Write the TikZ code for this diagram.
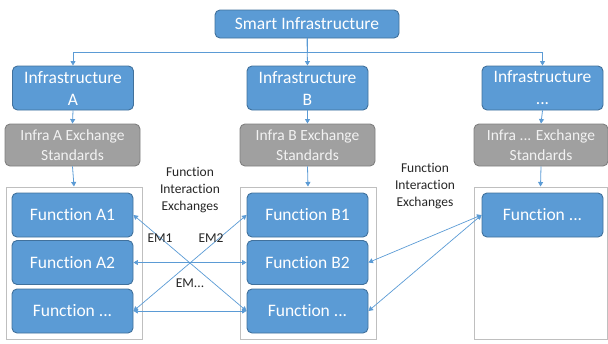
\documentclass[tikz,border=0pt]{standalone}
\usepackage{fontspec}
\setmainfont[Ligatures={NoCommon}]{Carlito}
\usetikzlibrary{arrows.meta}
\definecolor{bfill}{HTML}{5B9BD5}
\definecolor{bdraw}{HTML}{41719C}
\definecolor{gfill}{HTML}{A0A0A0}
\definecolor{gdraw}{HTML}{808080}
\definecolor{cdraw}{HTML}{BFBFBF}
\definecolor{lbl}{HTML}{262626}
\tikzset{
  bluebox/.style={draw=bdraw, fill=bfill, line width=0.9pt, rounded corners=5pt, text=white, align=center, inner sep=0pt, font=\fontsize{17.5}{22}\selectfont},
  graybox/.style={draw=gdraw, fill=gfill, line width=0.9pt, rounded corners=5pt, text=white!95!black, align=center, inner sep=0pt, minimum width=135pt, minimum height=42pt, font=\fontsize{15.5}{20}\selectfont},
  container/.style={draw=cdraw, line width=1pt, inner sep=0pt},
  conn/.style={draw=bfill, line width=0.8pt, -{Triangle[width=5pt,length=4.5pt]}},
  biconn/.style={draw=bfill, line width=0.7pt, {Triangle[width=5pt,length=4.5pt]}-{Triangle[width=5pt,length=4.5pt]}},
  lab/.style={text=lbl, align=center, inner sep=0pt, font=\fontsize{13.5}{17}\selectfont},
  fnbox/.style={bluebox, minimum width=121pt, minimum height=44pt},
  infbox/.style={bluebox, minimum width=121pt, minimum height=44pt},
}
\begin{document}
\begin{tikzpicture}[x=1pt, y=-1pt]
\useasboundingbox (0,0) rectangle (608,343);
% containers
\node[container, minimum width=136pt, minimum height=152pt] (contA) at (74,263) {};
\node[container, minimum width=136pt, minimum height=152pt] (contB) at (308,263) {};
\node[container, minimum width=133pt, minimum height=152pt] (contC) at (540.5,263) {};
% top
\node[bluebox, minimum width=184pt, minimum height=28pt] (smart) at (307,24) {Smart Infrastructure};
\node[infbox] (infA) at (73,88) {Infrastructure\\A};
\node[infbox] (infB) at (307.5,88) {Infrastructure\\B};
\node[infbox] (infC) at (542.5,88) {Infrastructure\\...};
% standards
\node[graybox] (stdA) at (72.5,145) {Infra A Exchange\\Standards};
\node[graybox] (stdB) at (307.5,145) {Infra B Exchange\\Standards};
\node[graybox, minimum width=134pt] (stdC) at (541,145) {Infra ... Exchange\\Standards};
% functions
\node[fnbox] (A1) at (72.5,215) {Function A1};
\node[fnbox] (A2) at (72.5,262.5) {Function A2};
\node[fnbox] (A3) at (72.5,311) {Function ...};
\node[fnbox] (B1) at (307.5,215) {Function B1};
\node[fnbox] (B2) at (307.5,262.5) {Function B2};
\node[fnbox] (B3) at (307.5,311) {Function ...};
\node[fnbox] (C1) at (542.5,215) {Function ...};
% hierarchy connectors
\coordinate (bus) at (307,52);
\draw[conn] (smart.south) -- (infB.north);
\draw[conn] (smart.south) -- (smart.south |- bus) -| (infA.north);
\draw[conn] (smart.south) -- (smart.south |- bus) -| (infC.north);
\draw[conn] (infA.south) -- (stdA.north);
\draw[conn] (infB.south) -- (stdB.north);
\draw[conn] (infC.south) -- (stdC.north);
\draw[conn] (stdA.south) -- (contA.north);
\draw[conn] (stdB.south) -- (contB.north);
\draw[conn] (stdC.south) -- (contC.north);
% exchanges
\draw[biconn] (A1.east) -- (B3.west);
\draw[biconn] (A3.east) -- (B1.west);
\draw[biconn] (A2.east) -- (B2.west);
\draw[biconn] (A3.east) -- (B3.west);
\draw[biconn] (C1.west) -- (B2.east);
\draw[biconn] (C1.west) -- (B3.east);
% labels
\node[lab] (fie1) at (190,190) {Function\\Interaction\\Exchanges};
\node[lab] (fie2) at (425,186) {Function\\Interaction\\Exchanges};
\node[lab] (em1) at (160,238) {EM1};
\node[lab] (em2) at (211,238) {EM2};
\node[lab] (em3) at (190,283) {EM...};
\end{tikzpicture}
\end{document}
